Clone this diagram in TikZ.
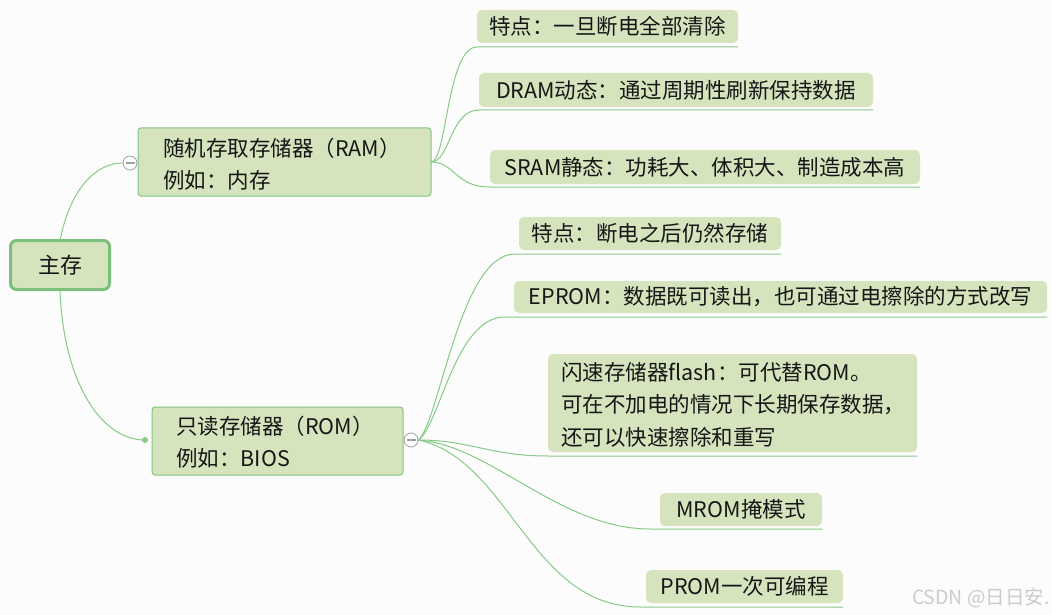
\documentclass[tikz,border=0pt]{standalone}
\usepackage{fontspec}
\setmainfont{Noto Sans CJK SC}
\definecolor{boxfill}{RGB}{214,228,190}
\definecolor{linegreen}{RGB}{135,202,135}
\definecolor{bordergreen}{RGB}{128,198,128}
\definecolor{rootborder}{RGB}{122,192,122}
\definecolor{bgc}{RGB}{252,252,252}
\definecolor{txtc}{RGB}{22,22,22}
\newcommand\nodefont{\fontsize{21.5pt}{32.5pt}\selectfont}
\newcommand\rootfont{\fontsize{22pt}{30pt}\selectfont}
\newcommand\wmfont{\fontsize{19.5pt}{22pt}\selectfont}
\begin{document}
\begin{tikzpicture}[x=1pt,y=-1pt,
  leaf/.style={fill=boxfill, rounded corners=5pt, inner sep=0pt, outer sep=0pt,
    anchor=north west, font=\nodefont, text=txtc},
  mainbox/.style={fill=boxfill, draw=bordergreen, line width=1pt, rounded corners=3pt,
    anchor=north west, inner sep=0pt, outer sep=0pt},
  rootbox/.style={fill=boxfill, draw=rootborder, line width=3pt, rounded corners=6pt,
    inner sep=0pt, outer sep=0pt, font=\rootfont, text=txtc,
    minimum width=99pt, minimum height=49pt},
  txt/.style={anchor=west, align=left, inner sep=0pt, font=\nodefont, text=txtc},
  link/.style={draw=linegreen, line width=1pt},
  collapse/.style={circle, draw=gray!75, fill=white, line width=0.8pt,
    minimum size=14pt, inner sep=0pt},
  minus/.style={draw=gray!75, line width=1.1pt},
  dotnode/.style={circle, fill=linegreen, minimum size=6pt, inner sep=0pt}]

\fill[bgc] (0,0) rectangle (1052,615);
\useasboundingbox (0,0) rectangle (1052,615);

% root
\node[rootbox] (root) at (60,265) {主存};

% RAM
\node[mainbox, minimum width=293pt, minimum height=68pt] (ram) at (138,128) {};
\node[txt] (ramtxt) at (163,164) {随机存取存储器（RAM）\\例如：内存};
\node[collapse] (ramc) at (130,163) {};
\draw[minus] ([xshift=-4.5pt]ramc.center) -- ([xshift=4.5pt]ramc.center);

% ROM
\node[mainbox, minimum width=251pt, minimum height=68pt] (rom) at (152,407) {};
\node[txt] (romtxt) at (176,442) {只读存储器（ROM）\\例如：BIOS};
\node[collapse] (romc) at (411,440) {};
\draw[minus] ([xshift=-4.5pt]romc.center) -- ([xshift=4.5pt]romc.center);
\node[dotnode] (romdot) at (145,440) {};

% root connectors
\draw[link] (root.north) .. controls (70,190) and (95,163) .. (ramc.west);
\draw[link] (root.south) .. controls (63,380) and (100,440) .. (romdot.center);

% RAM leaves
\node[leaf, minimum width=261pt, minimum height=33pt] (r1) at (477,10) {特点：一旦断电全部清除};
\node[leaf, minimum width=394pt, minimum height=34pt] (r2) at (479,73) {DRAM动态：通过周期性刷新保持数据};
\node[leaf, minimum width=430pt, minimum height=34pt] (r3) at (490,150) {SRAM静态：功耗大、体积大、制造成本高};

\coordinate (u1) at (477,47);
\coordinate (u2) at (479,110);
\coordinate (u3) at (490,187);
\draw[link] (ram.east) .. controls (447,162) and (447,47) .. (u1) -- (u1 -| r1.east);
\draw[link] (ram.east) .. controls (450,162) and (450,110) .. (u2) -- (u2 -| r2.east);
\draw[link] (ram.east) .. controls (455,162) and (455,187) .. (u3) -- (u3 -| r3.east);

% ROM leaves
\node[leaf, minimum width=262pt, minimum height=33pt] (q1) at (519,217) {特点：断电之后仍然存储};
\node[leaf, minimum width=533pt, minimum height=32pt] (q2) at (514,281) {EPROM：数据既可读出，也可通过电擦除的方式改写};
\node[leaf, minimum width=369pt, minimum height=98pt] (q3) at (548,354) {};
\node[txt] (q3txt) at (561,404.5) {闪速存储器flash：可代替ROM。\\可在不加电的情况下长期保存数据，\\还可以快速擦除和重写};
\node[leaf, minimum width=162pt, minimum height=33pt] (q4) at (660,493) {MROM掩模式};
\node[leaf, minimum width=197pt, minimum height=33pt] (q5) at (646,570) {PROM一次可编程};

\coordinate (w1) at (515,254);
\coordinate (w2) at (505,317);
\coordinate (w3) at (548,456);
\coordinate (w4) at (650,529);
\coordinate (w5) at (640,607);
\draw[link] (romc.east) .. controls (440,420) and (460,254) .. (w1) -- (w1 -| q1.east);
\draw[link] (romc.east) .. controls (440,425) and (455,317) .. (w2) -- (w2 -| q2.east);
\draw[link] (romc.east) .. controls (470,440) and (490,456) .. (w3) -- (w3 -| q3.east);
\draw[link] (romc.east) .. controls (490,445) and (560,529) .. (w4) -- (w4 -| q4.east);
\draw[link] (romc.east) .. controls (510,460) and (530,607) .. (w5) -- (w5 -| q5.east);

% watermark
\node[anchor=east, inner sep=0pt, text=gray!40, font=\wmfont] (wm) at (1050,598) {CSDN @日日安.};
\end{tikzpicture}
\end{document}
